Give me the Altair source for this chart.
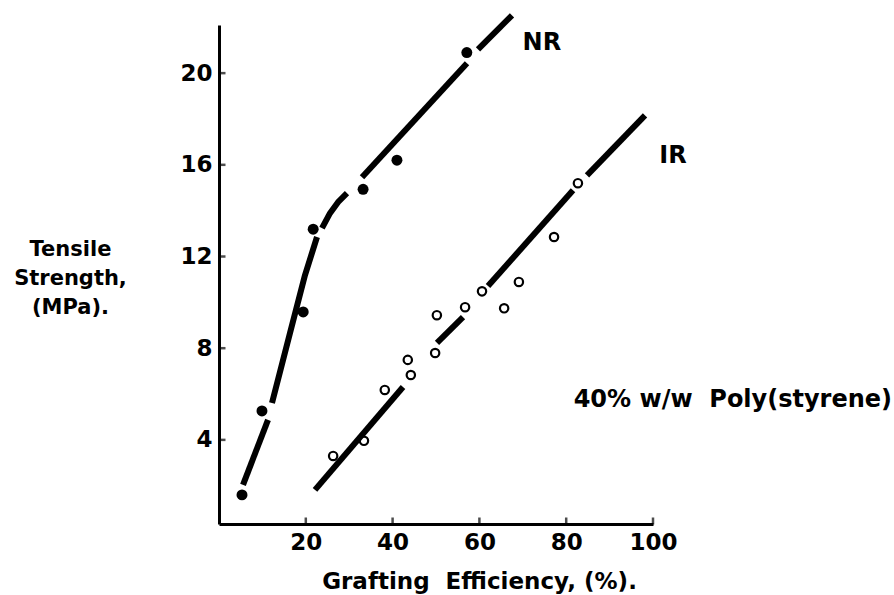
import altair as alt
import pandas as pd

# --- measured data ---------------------------------------------------------
# NR (filled circles)
nr_x = [5.3, 9.9, 19.4, 21.7, 33.2, 41.0, 57.1]
nr_y = [1.6, 5.26, 9.58, 13.19, 14.93, 16.2, 20.9]

# IR (open circles)
ir_x = [26.3, 33.4, 38.2, 44.2, 43.5, 49.8, 50.2, 56.7, 60.6, 65.7, 69.1, 77.2, 82.7]
ir_y = [3.3, 3.96, 6.18, 6.83, 7.49, 7.79, 9.44, 9.79, 10.48, 9.74, 10.89, 12.85, 15.2]

# hand-drawn NR curve (broken into pieces, gaps near the points)
nr_fit_x = [5.53, 11.29, 12.21, 16.36, 19.82, 22.58, 23.73, 25.58, 27.42, 29.49, 32.95, 57.14, 59.68, 67.51]
nr_fit_y = [2.04, 4.87, 5.61, 8.66, 11.19, 12.85, 13.24, 13.89, 14.37, 14.76, 15.46, 20.43, 21.04, 22.52]
nr_fit_seg = [1, 1, 2, 2, 2, 2, 3, 3, 3, 3, 4, 4, 5, 5]

# hand-drawn IR line (broken into pieces)
ir_fit_x = [22.12, 42.40, 50.23, 56.22, 61.98, 81.57, 84.79, 98.16]
ir_fit_y = [1.82, 6.31, 8.23, 9.36, 10.71, 14.89, 15.54, 18.16]
ir_fit_seg = [1, 1, 2, 2, 3, 3, 4, 4]

x_ticks = [20, 40, 60, 80, 100]
y_ticks = [4, 8, 12, 16, 20]

NBSP = "\u00a0"
label_text = ["NR", "IR", "40% w/w" + NBSP + NBSP + "Poly(styrene)"]
label_x = [74.4, 104.6, 118.4]
label_y = [21.3, 16.4, 5.74]

# --- tables -----------------------------------------------------------------
nr_df = pd.DataFrame({"x": nr_x, "y": nr_y})
ir_df = pd.DataFrame({"x": ir_x, "y": ir_y})
nr_fit = pd.DataFrame({"x": nr_fit_x, "y": nr_fit_y, "seg": nr_fit_seg})
ir_fit = pd.DataFrame({"x": ir_fit_x, "y": ir_fit_y, "seg": ir_fit_seg})
xt_df = pd.DataFrame({"x": x_ticks})
yt_df = pd.DataFrame({"y": y_ticks})
lab_df = pd.DataFrame({"label": label_text, "x": label_x, "y": label_y})

FONT = "DejaVu Sans"
W, H = 434, 499

xscale = alt.Scale(domain=[0, 100], nice=False, zero=False)
yscale = alt.Scale(domain=[0.33, 22.1], nice=False, zero=False)

X = alt.X(
    "x:Q",
    scale=xscale,
    axis=alt.Axis(
        values=x_ticks, ticks=False, grid=False,
        domainWidth=3, domainColor="black",
        labelFont=FONT, labelFontSize=23, labelFontWeight="bold",
        labelColor="black", labelPadding=7, labelFlush=False, labelOverlap=False,
        title="Grafting" + NBSP + NBSP + "Efficiency," + NBSP + "(%).",
        titleFont=FONT, titleFontSize=23, titleFontWeight="bold", titleColor="black",
        titleX=260, titleY=57, titleAlign="center", titleBaseline="middle",
    ),
)
Y = alt.Y(
    "y:Q",
    scale=yscale,
    axis=alt.Axis(
        values=y_ticks, ticks=False, grid=False,
        domainWidth=3, domainColor="black",
        labelFont=FONT, labelFontSize=23, labelFontWeight="bold",
        labelColor="black", labelPadding=7, labelFlush=False, labelOverlap=False,
        title=["Tensile", "Strength,", "(MPa)."],
        titleFont=FONT, titleFontSize=21, titleFontWeight="bold", titleColor="black",
        titleAngle=0, titleX=-149, titleY=213, titleAlign="center",
        titleBaseline="top", titleLineHeight=29,
    ),
)

nr_line = alt.Chart(nr_fit).mark_line(
    color="black", strokeWidth=6, strokeCap="butt", strokeJoin="round"
).encode(x=X, y=Y, detail="seg:N")

ir_line = alt.Chart(ir_fit).mark_line(
    color="black", strokeWidth=6, strokeCap="butt", strokeJoin="round"
).encode(x=X, y=Y, detail="seg:N")

nr_pts = alt.Chart(nr_df).mark_point(
    shape="circle", filled=True, color="black", size=120, opacity=1
).encode(x=X, y=Y)

ir_pts = alt.Chart(ir_df).mark_point(
    shape="circle", filled=False, color="black", size=70, strokeWidth=2.2, opacity=1
).encode(x=X, y=Y)

xticks = alt.Chart(xt_df).mark_tick(
    orient="vertical", color="black", size=7, thickness=2.5
).encode(x=X, y=alt.value(H - 3))

yticks = alt.Chart(yt_df).mark_tick(
    orient="horizontal", color="black", size=7, thickness=2.5
).encode(y=Y, x=alt.value(3))

labels = alt.Chart(lab_df).mark_text(
    font=FONT, fontSize=24, fontWeight="bold", color="black",
    align="center", baseline="middle"
).encode(x=X, y=Y, text="label:N")

chart = alt.layer(
    xticks, yticks, nr_line, ir_line, nr_pts, ir_pts, labels
).properties(
    width=W, height=H,
    padding={"left": 219, "top": 25, "right": 894 - 219 - W, "bottom": 595 - 25 - H},
    autosize=alt.AutoSizeParams(type="none"),
    background="white",
).configure_view(stroke=None)

chart.save("out.html", embed_options={"renderer": "svg", "actions": False})
